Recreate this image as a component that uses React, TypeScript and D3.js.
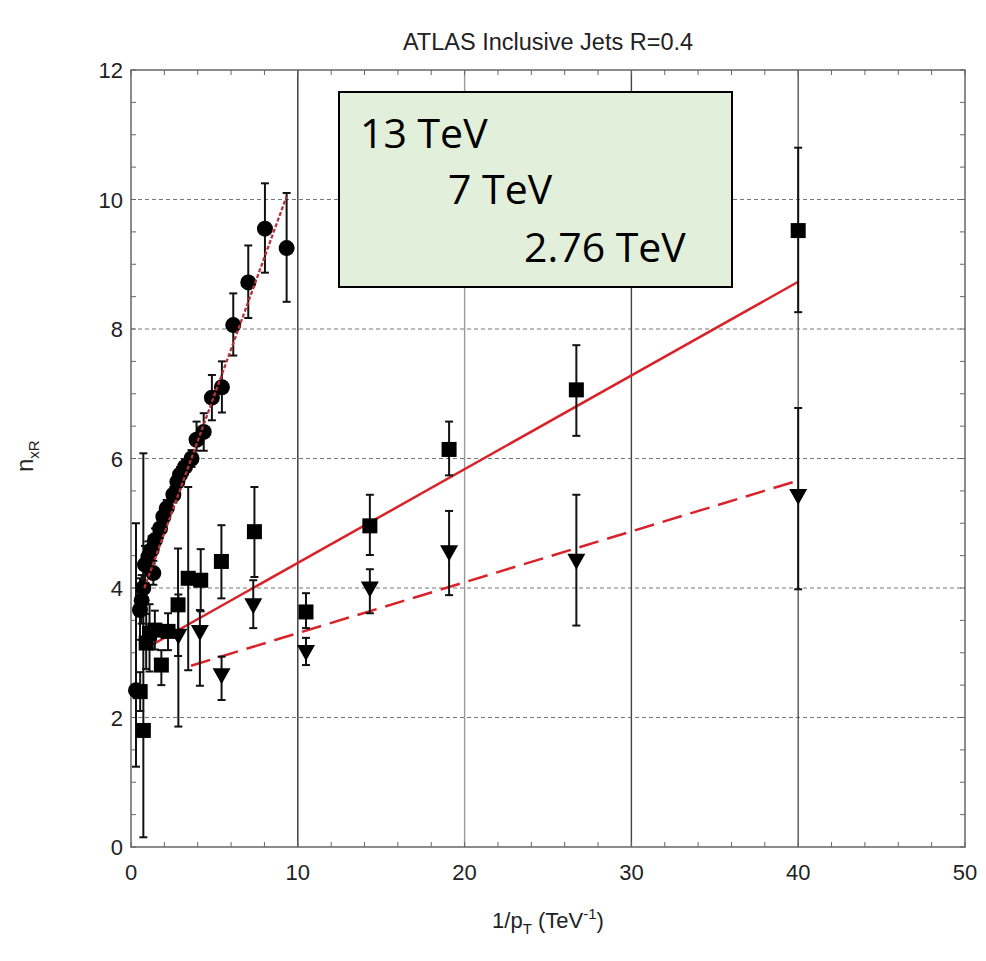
import React from "react";
import * as d3 from "d3";

// ---- data ----
// 13 TeV (circles)
const c13X = [0.30, 0.54, 0.64, 0.74, 0.84, 1.04, 1.24, 1.34, 1.44, 1.74, 1.94, 2.14, 2.54, 2.78, 2.94, 3.24, 3.63, 3.93, 4.36, 4.85, 5.45, 6.13, 7.03, 8.03, 9.33];
const c13Y = [2.42, 3.66, 3.81, 4.00, 4.36, 4.48, 4.59, 4.23, 4.74, 4.92, 5.10, 5.23, 5.44, 5.64, 5.75, 5.87, 6.00, 6.29, 6.41, 6.94, 7.10, 8.06, 8.72, 9.55, 9.25];
const c13Lo = [1.24, 3.20, 3.45, 3.70, 4.05, 4.25, 4.38, 4.05, 4.56, 4.77, 4.97, 5.10, 5.32, 5.52, 5.63, 5.75, 5.87, 6.12, 6.12, 6.59, 6.71, 7.59, 8.17, 8.87, 8.42];
const c13Hi = [5.00, 4.15, 4.20, 4.35, 4.65, 4.72, 4.80, 4.42, 4.92, 5.07, 5.23, 5.36, 5.56, 5.76, 5.87, 5.99, 6.13, 6.57, 6.70, 7.29, 7.50, 8.55, 9.29, 10.25, 10.10];

// 7 TeV (squares)
const s7X = [0.55, 0.74, 0.91, 1.11, 1.43, 1.82, 2.22, 2.82, 3.43, 4.18, 5.42, 7.40, 10.49, 14.32, 19.07, 26.70, 40.0];
const s7Y = [2.40, 1.80, 3.15, 3.30, 3.35, 2.81, 3.33, 3.74, 4.15, 4.12, 4.41, 4.87, 3.63, 4.96, 6.14, 7.06, 9.52];
const s7Lo = [2.10, 0.15, 2.75, 2.71, 3.05, 2.50, 3.04, 2.95, 2.73, 3.64, 3.84, 4.17, 3.38, 4.51, 5.74, 6.35, 8.26];
const s7Hi = [2.70, 6.08, 3.60, 3.75, 3.65, 3.04, 3.61, 4.61, 5.56, 4.60, 4.97, 5.56, 3.92, 5.44, 6.57, 7.75, 10.80];

// 2.76 TeV (triangles)
const t276X = [2.84, 4.13, 5.43, 7.33, 10.49, 14.32, 19.07, 26.70, 40.0];
const t276Y = [3.27, 3.33, 2.66, 3.74, 3.02, 4.00, 4.56, 4.43, 5.43];
const t276Lo = [1.86, 2.49, 2.27, 3.38, 2.81, 3.61, 3.89, 3.42, 3.98];
const t276Hi = [3.90, 3.66, 2.94, 4.12, 3.23, 4.29, 5.19, 5.44, 6.78];

// fit lines (end points)
const fit13X = [0.8, 9.33];
const fit13Y = [4.0, 10.05];
const fit7X = [0.9, 40];
const fit7Y = [3.07, 8.73];
const fit276X = [3.6, 40];
const fit276Y = [2.80, 5.66];

const xTicks = [0, 10, 20, 30, 40, 50];
const yTicks = [0, 2, 4, 6, 8, 10, 12];
const legendLabels = ["13 TeV", "7 TeV", "2.76 TeV"];

const W = 986;
const H = 961;
const M = { left: 131, right: 965, top: 70, bottom: 847 };

export default function App() {
  const x = d3.scaleLinear().domain([0, 50]).range([M.left, M.right]);
  const y = d3.scaleLinear().domain([0, 12]).range([M.bottom, M.top]);
  const line = d3.line<[number, number]>().x((d) => x(d[0])).y((d) => y(d[1]));

  const xMinor = d3.range(0, 50.001, 2);
  const yMinor = d3.range(0, 12.001, 0.5);
  const font = "'Liberation Sans', Arial, sans-serif";
  const red = "#d8232a";

  const errBars = (xs: number[], lo: number[], hi: number[], key: string) =>
    xs.map((xv, i) => (
      <g key={key + i} stroke="#111" strokeWidth={2}>
        <line x1={x(xv)} x2={x(xv)} y1={y(lo[i])} y2={y(hi[i])} />
        <line x1={x(xv) - 4} x2={x(xv) + 4} y1={y(lo[i])} y2={y(lo[i])} />
        <line x1={x(xv) - 4} x2={x(xv) + 4} y1={y(hi[i])} y2={y(hi[i])} />
      </g>
    ));

  const vColors = ["#333", "#999", "#444", "#555"];
  const pts = (xs: number[], ys: number[]) => xs.map((v, i) => [v, ys[i]] as [number, number]);

  return (
    <svg width={W} height={H} style={{ position: "absolute", left: 0, top: 0, background: "#fff" }}>
      <rect x={0} y={0} width={W} height={H} fill="#fff" />
      {/* horizontal dashed grid */}
      {yTicks.filter((t) => t > 0 && t < 12).map((t) => (
        <line key={"hg" + t} x1={M.left} x2={M.right} y1={y(t)} y2={y(t)} stroke="#777" strokeWidth={1} strokeDasharray="4,3" />
      ))}
      {/* vertical solid grid */}
      {xTicks.filter((t) => t > 0 && t < 50).map((t, i) => (
        <line key={"vg" + t} x1={x(t)} x2={x(t)} y1={M.top} y2={M.bottom} stroke={vColors[i]} strokeWidth={1.4} />
      ))}
      {/* frame */}
      <rect x={M.left} y={M.top} width={M.right - M.left} height={M.bottom - M.top} fill="none" stroke="#666" strokeWidth={1.5} />
      {/* minor ticks */}
      {xMinor.map((t) => (
        <g key={"xm" + t} stroke="#666" strokeWidth={1}>
          <line x1={x(t)} x2={x(t)} y1={M.bottom} y2={M.bottom - 5} />
          <line x1={x(t)} x2={x(t)} y1={M.top} y2={M.top + 5} />
        </g>
      ))}
      {yMinor.map((t) => (
        <g key={"ym" + t} stroke="#666" strokeWidth={1}>
          <line x1={M.left} x2={M.left + 5} y1={y(t)} y2={y(t)} />
          <line x1={M.right} x2={M.right - 5} y1={y(t)} y2={y(t)} />
        </g>
      ))}
      {/* tick labels */}
      {xTicks.map((t) => (
        <text key={"xl" + t} x={x(t)} y={880} textAnchor="middle" fontFamily={font} fontSize={22} fill="#222">{t}</text>
      ))}
      {yTicks.map((t) => (
        <text key={"yl" + t} x={123} y={y(t) + 8} textAnchor="end" fontFamily={font} fontSize={22} fill="#222">{t}</text>
      ))}
      {/* title */}
      <text x={(M.left + M.right) / 2} y={50} textAnchor="middle" fontFamily={font} fontSize={23.5} fill="#222">ATLAS Inclusive Jets R=0.4</text>
      {/* axis labels */}
      <text x={(M.left + M.right) / 2} y={928} textAnchor="middle" fontFamily={font} fontSize={22} fill="#222">
        1/p<tspan fontSize={15} dy={6}>T</tspan><tspan dy={-6}> (TeV</tspan><tspan fontSize={15} dy={-9}>-1</tspan><tspan dy={9}>)</tspan>
      </text>
      <text transform="translate(33,472) rotate(-90)" fontFamily={font} fontSize={24} fill="#222">
        n<tspan fontSize={15} dy={6}>xR</tspan>
      </text>
      {/* fit lines */}
      <path d={line(pts(fit7X, fit7Y)) || ""} fill="none" stroke={red} strokeWidth={2.5} />
      <path d={line(pts(fit276X, fit276Y)) || ""} fill="none" stroke={red} strokeWidth={2.5} strokeDasharray="20,9" />
      {/* error bars */}
      {errBars(c13X, c13Lo, c13Hi, "ce")}
      {errBars(s7X, s7Lo, s7Hi, "se")}
      {errBars(t276X, t276Lo, t276Hi, "te")}
      {/* markers */}
      {s7X.map((xv, i) => (
        <rect key={"s" + i} x={x(xv) - 7.5} y={y(s7Y[i]) - 7.5} width={15} height={15} fill="#000" />
      ))}
      {t276X.map((xv, i) => {
        const cx = x(xv), cy = y(t276Y[i]);
        return <path key={"t" + i} d={`M${cx - 9},${cy - 6.5} L${cx + 9},${cy - 6.5} L${cx},${cy + 9.5} Z`} fill="#000" />;
      })}
      {c13X.map((xv, i) => (
        <circle key={"c" + i} cx={x(xv)} cy={y(c13Y[i])} r={8} fill="#000" />
      ))}
      <path d={line(pts(fit13X, fit13Y)) || ""} fill="none" stroke="#b8333a" strokeWidth={2.3} strokeDasharray="4,2" />
      {/* legend */}
      <rect x={339} y={92} width={393} height={195} fill="#e2efda" stroke="#000" strokeWidth={2} />
      <text x={360} y={148} fontFamily="'Open Sans', sans-serif" fontSize={41} fill="#000">{legendLabels[0]}</text>
      <text x={448} y={204} fontFamily="'Open Sans', sans-serif" fontSize={41} fill="#000">{legendLabels[1]}</text>
      <text x={524} y={262} fontFamily="'Open Sans', sans-serif" fontSize={41} fill="#000">{legendLabels[2]}</text>
    </svg>
  );
}
